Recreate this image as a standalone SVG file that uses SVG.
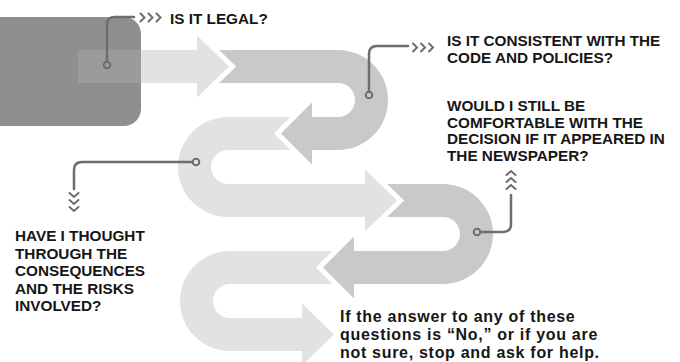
<svg xmlns="http://www.w3.org/2000/svg" width="680" height="362" viewBox="0 0 680 362">
<style>
.light{fill:#e1e2e3}
.mid{fill:#c9c9c9}
.halo{fill:#fff;stroke:#fff;stroke-width:10;stroke-linejoin:miter;stroke-miterlimit:10}
.wire{fill:none;stroke:#6d6e70;stroke-width:2.5;stroke-linecap:round}
.dot{fill:none;stroke:#6d6e70;stroke-width:2}
.chev{fill:none;stroke:#6d6e70;stroke-width:2;stroke-linecap:round;stroke-linejoin:miter}
.h{font-family:"Liberation Sans",Arial,sans-serif;font-weight:bold;font-size:15.3px;fill:#161616}
.note{font-family:"Liberation Sans",Arial,sans-serif;font-weight:bold;font-size:16px;letter-spacing:0.7px;fill:#161616}
</style>
<g id="start-block">
<path d="M0,17 H124 A17,17 0 0 1 141,34 V109 A17,17 0 0 1 124,126 H0 Z" fill="#8e8f91"/>
<rect x="78" y="50" width="63" height="33" fill="#fff" opacity="0.11"/>
</g>
<g id="path-flow">
<path id="seg-e" class="light" d="M345,251 H230 A50,50 0 0 0 230,351 H302 V365.5 L334,334.5 L302,303.5 V318 H230 A17,17 0 0 1 230,284 H345 Z"/>
<polygon class="halo" points="354,236.5 323,267.5 354,298.5"/>
<path id="seg-d" class="mid" d="M375,184 H443 A50,50 0 0 1 443,284 H354 V298.5 L323,267.5 L354,236.5 V251 H443 A17,17 0 0 0 443,217 H375 Z"/>
<polygon class="halo" points="365,169.5 397,200.5 365,231.5"/>
<path id="seg-c" class="light" d="M290,117 H228 A50,50 0 0 0 228,217 H365 V231.5 L397,200.5 L365,169.5 V184 H228 A17,17 0 0 1 228,150 H290 Z"/>
<polygon class="halo" points="312,102.5 281,133.5 312,164.5"/>
<path id="seg-b" class="mid" d="M205,50 H338 A50,50 0 0 1 338,150 H312 V164.5 L281,133.5 L312,102.5 V117 H338 A17,17 0 0 0 338,83 H205 Z"/>
<polygon class="halo" points="197,35.5 229,66.5 197,97.5"/>
<path id="seg-a" class="light" d="M141,50 H197 V35.5 L229,66.5 L197,97.5 V83 H141 Z"/>
</g>
<g id="connectors">
<path class="wire" d="M107,61.5 V25 Q107,17 115,17 H134"/>
<circle class="dot" cx="107" cy="65" r="3.3"/>
<path class="chev" d="M140.5,13.5 L144.5,17.5 L140.5,21.5 M148.5,13.5 L152.5,17.5 L148.5,21.5 M156.5,13.5 L160.5,17.5 L156.5,21.5"/>
<path class="wire" d="M369,91.5 V54 Q369,46 377,46 H408"/>
<circle class="dot" cx="369" cy="95" r="3.3"/>
<path class="chev" d="M413,43.5 L417,47.5 L413,51.5 M421,43.5 L425,47.5 L421,51.5 M429,43.5 L433,47.5 L429,51.5"/>
<path class="wire" d="M192.5,162 H82 Q74,162 74,170 V189"/>
<circle class="dot" cx="196" cy="162" r="3.3"/>
<path class="chev" d="M69.5,193 L74,197 L78.5,193 M69.5,200 L74,204 L78.5,200 M69.5,207 L74,211 L78.5,207"/>
<path class="wire" d="M480.5,232 H503 Q511,232 511,224 V195"/>
<circle class="dot" cx="477" cy="232" r="3.3"/>
<path class="chev" d="M506.5,175 L511,171 L515.5,175 M506.5,182 L511,178 L515.5,182 M506.5,189 L511,185 L515.5,189"/>
</g>
<g id="q-legal">
<text class="h" x="170" y="24">IS IT LEGAL?</text>
</g>
<g id="q-code">
<text class="h" x="447" y="46">IS IT CONSISTENT WITH THE</text>
<text class="h" x="447" y="62.5">CODE AND POLICIES?</text>
</g>
<g id="q-newspaper">
<text class="h" x="447" y="111">WOULD I STILL BE</text>
<text class="h" x="447" y="127.7">COMFORTABLE WITH THE</text>
<text class="h" x="447" y="144.3">DECISION IF IT APPEARED IN</text>
<text class="h" x="447" y="161">THE NEWSPAPER?</text>
</g>
<g id="q-consequences">
<text class="h" x="15" y="241">HAVE I THOUGHT</text>
<text class="h" x="15" y="258.6">THROUGH THE</text>
<text class="h" x="15" y="276.2">CONSEQUENCES</text>
<text class="h" x="15" y="293.8">AND THE RISKS</text>
<text class="h" x="15" y="311.4">INVOLVED?</text>
</g>
<g id="note">
<text class="note" x="340" y="322">If the answer to any of these</text>
<text class="note" x="340" y="340">questions is “No,” or if you are</text>
<text class="note" x="340" y="358">not sure, stop and ask for help.</text>
</g>
</svg>
